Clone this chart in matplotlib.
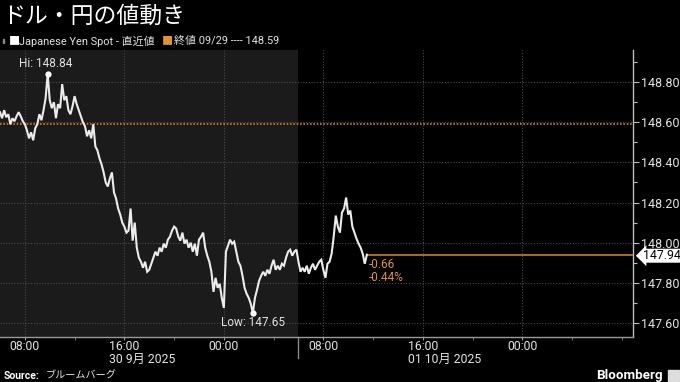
import matplotlib
matplotlib.use("Agg")
import matplotlib.pyplot as plt
import matplotlib.dates as mdates
import matplotlib.transforms as mtransforms
from matplotlib.patches import Rectangle
from matplotlib.ticker import FixedLocator, MultipleLocator, FuncFormatter
import pandas as pd
import numpy as np

plt.rcParams['font.family'] = ['Roboto', 'Noto Sans CJK JP', 'DejaVu Sans']

# ---------------- data ----------------
title = "ドル・円の値動き"
series_name = "Japanese Yen Spot - 直近値"
prev_close_label = "終値 09/29 ---- 148.59"
prev_close = 148.59
change_text = "-0.66"
change_pct_text = "-0.44%"
start_time = "2025-09-30 06:00"
prices = [
    148.65, 148.62, 148.66, 148.625, 148.64, 148.59, 148.62, 148.605, 148.63, 148.65,
    148.63, 148.605, 148.59, 148.56, 148.52, 148.55, 148.51, 148.57, 148.59, 148.64,
    148.61, 148.66, 148.72, 148.84, 148.71, 148.67, 148.70, 148.62, 148.69, 148.67,
    148.79, 148.71, 148.73, 148.66, 148.64, 148.68, 148.73, 148.69, 148.66, 148.63,
    148.60, 148.58, 148.53, 148.56, 148.52, 148.59, 148.48, 148.46, 148.42, 148.39,
    148.35, 148.30, 148.28, 148.32, 148.35, 148.25, 148.22, 148.17, 148.14, 148.10,
    148.08, 148.05, 148.06, 148.17, 148.01, 148.10, 147.975, 147.925, 147.905, 147.875,
    147.905, 147.855, 147.865, 147.895, 147.925, 147.955, 147.935, 147.975, 147.955, 147.995,
    147.975, 148.015, 148.03, 148.06, 148.08, 148.07, 148.03, 148.01, 148.05, 147.995,
    148.015, 147.975, 148.00, 147.955, 147.995, 147.935, 148.015, 148.03, 148.05, 147.975,
    147.935, 147.905, 147.855, 147.755, 147.825, 147.775, 147.795, 147.725, 147.675, 147.955,
    147.985, 148.015, 147.995, 148.005, 147.955, 147.905, 147.885, 147.835, 147.775, 147.745,
    147.725, 147.695, 147.65, 147.725, 147.765, 147.81, 147.835, 147.855, 147.835, 147.865,
    147.845, 147.885, 147.915, 147.865, 147.885, 147.865, 147.895, 147.885, 147.925, 147.955,
    147.965, 147.935, 147.955, 147.965, 147.905, 147.855, 147.875, 147.855, 147.885, 147.845,
    147.875, 147.895, 147.865, 147.885, 147.905, 147.915, 147.865, 147.825, 147.895, 147.905,
    147.945, 148.03, 148.135, 148.08, 148.05, 148.15, 148.17, 148.225, 148.14, 148.16,
    148.08, 148.05, 148.02, 147.995, 147.975, 147.945, 147.895, 147.94,
]
x_tick_times = ["2025-09-30 08:00", "2025-09-30 16:00", "2025-10-01 00:00",
                "2025-10-01 08:00", "2025-10-01 16:00", "2025-10-02 00:00"]
x_tick_labels = ["08:00", "16:00", "00:00", "08:00", "16:00", "00:00"]
date_label_times = ["2025-09-30 16:00", "2025-10-01 16:00"]
date_labels = ["30 9月 2025", "01 10月 2025"]
session_split = "2025-10-01 06:00"
y_ticks = [147.60, 147.80, 148.00, 148.20, 148.40, 148.60, 148.80]
source_label = "Source:"
source_name = "ブルームバーグ"
brand = "Bloomberg"

# ---------------- styling ----------------
BG = "black"
SHADE = "#1b1b1b"
GRID = "#4a4a4a"
TEXT = "#e3e3e3"
ORANGE = "#c9801f"
ORANGE_TXT = "#e0932e"
LINE = "#ececec"

W, H = 680, 382
fig = plt.figure(figsize=(W / 100, H / 100), dpi=100, facecolor=BG)
ax_l, ax_r, ax_t, ax_b = 0, 633, 50, 337
ax = fig.add_axes([ax_l / W, 1 - ax_b / H, (ax_r - ax_l) / W, (ax_b - ax_t) / H])
ax.set_facecolor(BG)

times = pd.date_range(start_time, periods=len(prices), freq="10min")
tnum = mdates.date2num(times)
prices_arr = np.array(prices)

x0 = mdates.date2num(pd.Timestamp(start_time))
x1 = mdates.date2num(pd.Timestamp(start_time) + pd.Timedelta(hours=50.9))
ax.set_xlim(x0, x1)
ax.set_ylim(147.53, 148.96)

split = mdates.date2num(pd.Timestamp(session_split))
ax.axvspan(x0, split, color=SHADE, zorder=0, lw=0)

# gridlines
xt = mdates.date2num(pd.to_datetime(x_tick_times))
for v in xt:
    ax.axvline(v, color=GRID, lw=0.8, ls=(0, (1, 1.5)), zorder=1)
for v in y_ticks:
    ax.axhline(v, color=GRID, lw=0.8, ls=(0, (1, 1.5)), zorder=1)

# previous close line
ax.axhline(prev_close, color=ORANGE, lw=1.2, ls=(0, (1, 1)), zorder=2)

# series
ax.plot(tnum, prices_arr, color=LINE, lw=1.5, zorder=4, solid_joinstyle="miter")

# last value line
last = prices_arr[-1]
ax.plot([tnum[-1], x1], [last, last], color=ORANGE, lw=1.2, zorder=3)

# hi / low
ihi = int(np.argmax(prices_arr))
ilo = int(np.argmin(prices_arr))
ax.plot(tnum[ihi], prices_arr[ihi], "o", color="white", ms=4.5, zorder=5, mec="none")
ax.plot(tnum[ilo], prices_arr[ilo], "o", color="white", ms=4.5, zorder=5, mec="none")
ax.annotate(f"Hi: {prices_arr[ihi]:.2f}", (tnum[ihi], prices_arr[ihi]),
            xytext=(-2, 4), textcoords="offset pixels", ha="center", va="bottom",
            color=TEXT, fontsize=8.5)
ax.annotate(f"Low: {prices_arr[ilo]:.2f}", (tnum[ilo], prices_arr[ilo]),
            xytext=(0, -3), textcoords="offset pixels", ha="center", va="top",
            color=TEXT, fontsize=8.5)

# change labels
ax.annotate(change_text, (tnum[-1], last), xytext=(2, -10), textcoords="offset pixels",
            ha="left", va="center", color=ORANGE_TXT, fontsize=8.5)
ax.annotate(change_pct_text, (tnum[-1], last), xytext=(2, -23), textcoords="offset pixels",
            ha="left", va="center", color=ORANGE_TXT, fontsize=8.5)

# axes styling
for s in ["left", "top"]:
    ax.spines[s].set_visible(False)
ax.spines["right"].set_color("#bdbdbd")
ax.spines["bottom"].set_color("#9a9a9a")
ax.spines["right"].set_linewidth(1.0)
ax.spines["bottom"].set_linewidth(1.0)

ax.yaxis.tick_right()
ax.yaxis.set_major_locator(FixedLocator(y_ticks))
ax.yaxis.set_minor_locator(MultipleLocator(0.1))
ax.yaxis.set_major_formatter(FuncFormatter(lambda v, p: f"{v:.2f}"))
ax.tick_params(axis="y", which="major", length=4, width=0.8, color="#bdbdbd",
               labelcolor=TEXT, labelsize=9, pad=2)
ax.tick_params(axis="y", which="minor", length=3, width=0.8, color="#bdbdbd")

ax.xaxis.set_major_locator(FixedLocator(xt))
ax.set_xticklabels(x_tick_labels)
ax.xaxis.set_minor_locator(FixedLocator(
    mdates.date2num(pd.date_range("2025-09-30 04:00", "2025-10-02 08:00", freq="4h"))))
ax.tick_params(axis="x", which="major", length=2, width=0.8, color="#9a9a9a",
               labelcolor=TEXT, labelsize=8.8, pad=0.5)
ax.tick_params(axis="x", which="minor", length=2, width=0.8, color="#6a6a6a")

# date labels
blend = mtransforms.blended_transform_factory(ax.transData, ax.transAxes)
for t, lab in zip(date_label_times, date_labels):
    tv = mdates.date2num(pd.Timestamp(t))
    ax.annotate(lab, (tv, 0), xycoords=blend, xytext=(-15, -22), textcoords="offset pixels",
                ha="left", va="center", color=TEXT, fontsize=8.8, annotation_clip=False)

# session separator below axis
ax.plot([split, split], [0, -21 / (ax_b - ax_t)], transform=blend, color="#8a8a8a",
        lw=1.0, clip_on=False)

# last value tag on the axis
ax.annotate(f"{last:.2f}", (1, last), xycoords=("axes fraction", "data"),
            xytext=(10, -1), textcoords="offset pixels", ha="left", va="center",
            color="black", fontsize=8.8,
            bbox=dict(boxstyle="larrow,pad=0.04", fc="white", ec="none"),
            annotation_clip=False)

# ---------------- header ----------------
fig.text(2 / W, 1 - 16 / H, title, color="white", fontsize=16.5, ha="left", va="center")
fig.text(9 / W, 1 - 41 / H, "■", color="white", fontsize=8, ha="left", va="center",
         family=["Noto Sans CJK JP"])
fig.add_artist(Rectangle((3 / W, 1 - 43 / H), 1 / W, 4 / H, color="#888888",
                         transform=fig.transFigure))
fig.text(19 / W, 1 - 41 / H, series_name, color=TEXT, fontsize=7.9, ha="left", va="center")
fig.text(162 / W, 1 - 41 / H, "■", color=ORANGE_TXT, fontsize=8, ha="left", va="center",
         family=["Noto Sans CJK JP"])
fig.text(174 / W, 1 - 41 / H, prev_close_label, color=TEXT, fontsize=7.9, ha="left", va="center")

# ---------------- footer ----------------
fig.text(4 / W, 1 - 376 / H, source_label, color="white", fontsize=7.5, fontweight="bold",
         ha="left", va="center")
fig.text(46 / W, 1 - 376 / H, source_name, color=TEXT, fontsize=7.3, ha="left", va="center")
fig.text(663 / W, 1 - 375 / H, brand, color="white", fontsize=9.6, fontweight="bold",
         ha="right", va="center")
fig.add_artist(Rectangle((668 / W, 1 - 381 / H), 11 / W, 11 / H, color="#dddddd",
                         transform=fig.transFigure))

fig.savefig("out.png", dpi=100, facecolor=BG)
